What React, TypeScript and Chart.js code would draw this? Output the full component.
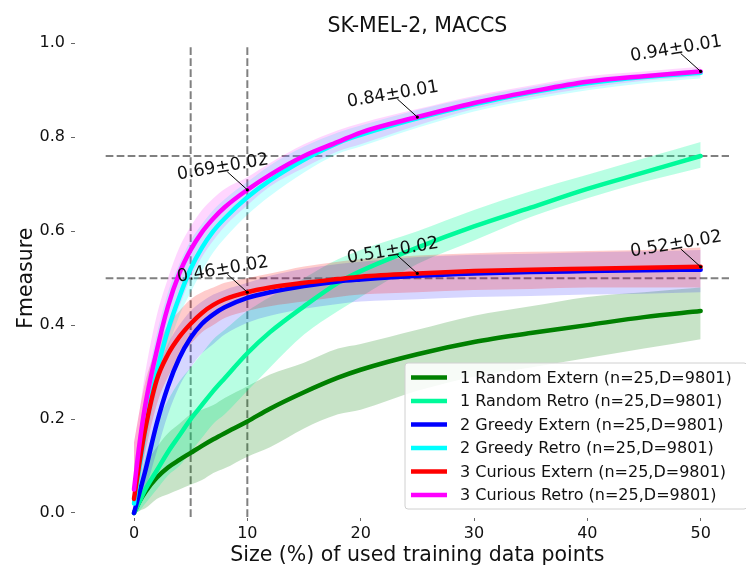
import React, { useEffect, useRef } from "react";
import { Chart, registerables } from "chart.js";

Chart.register(...registerables);

// ---------- data ----------
const X = [0, 0.5, 1, 2, 3, 4, 5, 6, 7, 8, 10, 12, 15, 18, 20, 25, 30, 35, 40, 45, 50];

const randomExtern = [0, 0.025, 0.045, 0.075, 0.097, 0.113, 0.128, 0.143, 0.157, 0.17, 0.195, 0.222, 0.257, 0.288, 0.305, 0.338, 0.364, 0.383, 0.4, 0.417, 0.43];
const randomRetro = [0, 0.025, 0.05, 0.09, 0.13, 0.165, 0.2, 0.23, 0.26, 0.287, 0.34, 0.385, 0.44, 0.49, 0.515, 0.565, 0.61, 0.65, 0.69, 0.725, 0.76];
const greedyExtern = [0, 0.045, 0.09, 0.19, 0.27, 0.33, 0.373, 0.403, 0.423, 0.438, 0.458, 0.47, 0.483, 0.493, 0.497, 0.505, 0.51, 0.513, 0.515, 0.517, 0.518];
const greedyRetro = [0.02, 0.1, 0.18, 0.3, 0.39, 0.46, 0.52, 0.565, 0.6, 0.627, 0.672, 0.708, 0.752, 0.788, 0.805, 0.84, 0.87, 0.895, 0.915, 0.928, 0.937];
const curiousExtern = [0.03, 0.11, 0.18, 0.283, 0.338, 0.375, 0.403, 0.426, 0.443, 0.455, 0.47, 0.48, 0.49, 0.498, 0.503, 0.51, 0.515, 0.518, 0.52, 0.522, 0.524];
const curiousRetro = [0.05, 0.15, 0.23, 0.345, 0.44, 0.51, 0.56, 0.598, 0.627, 0.651, 0.688, 0.72, 0.76, 0.79, 0.81, 0.843, 0.873, 0.897, 0.918, 0.93, 0.94];

// spread of the 25 individual runs (lower / upper envelope)
const randomExternLo = [0, 0.005, 0.01, 0.03, 0.04, 0.05, 0.06, 0.07, 0.085, 0.095, 0.12, 0.14, 0.18, 0.21, 0.22, 0.26, 0.29, 0.31, 0.33, 0.35, 0.37];
const randomExternHi = [0.02, 0.06, 0.1, 0.14, 0.17, 0.19, 0.21, 0.22, 0.23, 0.245, 0.27, 0.295, 0.32, 0.35, 0.36, 0.39, 0.42, 0.44, 0.46, 0.47, 0.48];
const randomRetroLo = [0, 0.005, 0.02, 0.05, 0.08, 0.1, 0.13, 0.16, 0.19, 0.21, 0.26, 0.31, 0.38, 0.43, 0.46, 0.53, 0.58, 0.63, 0.67, 0.705, 0.735];
const randomRetroHi = [0.02, 0.07, 0.12, 0.19, 0.24, 0.28, 0.31, 0.34, 0.37, 0.39, 0.43, 0.46, 0.5, 0.54, 0.56, 0.6, 0.645, 0.685, 0.72, 0.755, 0.79];
const greedyExternLo = [0, 0.02, 0.05, 0.13, 0.21, 0.27, 0.31, 0.34, 0.36, 0.38, 0.405, 0.42, 0.435, 0.445, 0.45, 0.455, 0.46, 0.462, 0.465, 0.467, 0.47];
const greedyExternHi = [0.06, 0.15, 0.22, 0.3, 0.36, 0.4, 0.43, 0.45, 0.465, 0.475, 0.49, 0.505, 0.52, 0.53, 0.535, 0.545, 0.55, 0.552, 0.555, 0.557, 0.56];
const greedyRetroLo = [0, 0.07, 0.14, 0.26, 0.35, 0.42, 0.47, 0.515, 0.555, 0.585, 0.635, 0.675, 0.725, 0.765, 0.78, 0.82, 0.855, 0.88, 0.9, 0.915, 0.925];
const greedyRetroHi = [0.1, 0.18, 0.26, 0.38, 0.47, 0.53, 0.58, 0.615, 0.645, 0.668, 0.705, 0.74, 0.78, 0.81, 0.825, 0.858, 0.885, 0.907, 0.925, 0.935, 0.945];
const curiousExternLo = [0.01, 0.07, 0.13, 0.23, 0.29, 0.33, 0.36, 0.385, 0.4, 0.415, 0.43, 0.44, 0.45, 0.46, 0.465, 0.47, 0.475, 0.477, 0.48, 0.48, 0.48];
const curiousExternHi = [0.15, 0.22, 0.28, 0.35, 0.4, 0.43, 0.455, 0.47, 0.48, 0.49, 0.5, 0.51, 0.525, 0.535, 0.54, 0.548, 0.553, 0.556, 0.558, 0.56, 0.565];
const curiousRetroLo = [0.01, 0.1, 0.17, 0.28, 0.37, 0.44, 0.5, 0.545, 0.58, 0.61, 0.655, 0.695, 0.735, 0.77, 0.785, 0.825, 0.86, 0.885, 0.905, 0.92, 0.93];
const curiousRetroHi = [0.15, 0.22, 0.3, 0.42, 0.5, 0.565, 0.61, 0.645, 0.67, 0.69, 0.715, 0.745, 0.785, 0.815, 0.83, 0.86, 0.888, 0.91, 0.93, 0.94, 0.95];

const SERIES_NAMES = [
  "1 Random Extern (n=25,D=9801)",
  "1 Random Retro (n=25,D=9801)",
  "2 Greedy Extern (n=25,D=9801)",
  "2 Greedy Retro (n=25,D=9801)",
  "3 Curious Extern (n=25,D=9801)",
  "3 Curious Retro (n=25,D=9801)",
];
const SERIES_COLORS = ["#008000", "#00FA9A", "#0000FF", "#00FFFF", "#FF0000", "#FF00FF"];
const BAND_COLORS = [
  "rgba(0,128,0,0.22)",
  "rgba(0,250,154,0.28)",
  "rgba(0,0,255,0.16)",
  "rgba(0,255,255,0.2)",
  "rgba(255,0,0,0.2)",
  "rgba(255,0,255,0.16)",
];
const MEANS = [randomExtern, randomRetro, greedyExtern, greedyRetro, curiousExtern, curiousRetro];
const LOWS = [randomExternLo, randomRetroLo, greedyExternLo, greedyRetroLo, curiousExternLo, curiousRetroLo];
const HIGHS = [randomExternHi, randomRetroHi, greedyExternHi, greedyRetroHi, curiousExternHi, curiousRetroHi];
const MEAN_ORDER = [6, 5, 4, 3, 2, 1]; // lower drawn on top

const X_TICKS = [0, 10, 20, 30, 40, 50];
const Y_TICKS = [0, 0.2, 0.4, 0.6, 0.8, 1.0];
const V_LINES = [5, 10];
const V_LINE_SPAN = [-0.0085, 0.9964];
const H_LINES = [0.76, 0.5];
const H_LINE_SPAN = [-2.5, 52.5];

const ANN_X = [10, 25, 50, 10, 25, 50];
const ANN_Y = [0.688, 0.843, 0.94, 0.47, 0.51, 0.524];
const ANN_LABELS = ["0.69±0.02", "0.84±0.01", "0.94±0.01", "0.46±0.02", "0.51±0.02", "0.52±0.02"];

const TITLE = "SK-MEL-2, MACCS";
const X_TITLE = "Size (%) of used training data points";
const Y_TITLE = "Fmeasure";

const FONT = "'DejaVu Sans', sans-serif";

const pts = (ys: number[]) => X.map((x, i) => ({ x, y: ys[i] }));

const overlayPlugin = {
  id: "overlay",
  afterDatasetsDraw(chart: any) {
    const ctx = chart.ctx;
    const xs = chart.scales.x;
    const ys = chart.scales.y;
    ctx.save();
    for (let i = 0; i < ANN_LABELS.length; i++) {
      const px = xs.getPixelForValue(ANN_X[i]);
      const py = ys.getPixelForValue(ANN_Y[i]);
      ctx.strokeStyle = "#000";
      ctx.lineWidth = 1;
      ctx.beginPath();
      ctx.moveTo(px - 20, py - 18);
      ctx.lineTo(px, py);
      ctx.stroke();
      ctx.fillStyle = "#000";
      ctx.beginPath();
      ctx.arc(px, py, 1.6, 0, Math.PI * 2);
      ctx.fill();
      ctx.save();
      ctx.translate(px - 24.5, py - 22.5);
      ctx.rotate((-9.5 * Math.PI) / 180);
      ctx.font = `17.5px ${FONT}`;
      ctx.textAlign = "center";
      ctx.textBaseline = "middle";
      ctx.fillStyle = "#111";
      ctx.fillText(ANN_LABELS[i], 0, 0);
      ctx.restore();
    }
    ctx.restore();
  },
  afterDraw(chart: any) {
    const ctx = chart.ctx;
    const area = chart.chartArea;
    ctx.save();
    // titles
    ctx.fillStyle = "#111";
    ctx.font = `20.5px ${FONT}`;
    ctx.textAlign = "center";
    ctx.textBaseline = "alphabetic";
    const cx = (chart.scales.x.getPixelForValue(H_LINE_SPAN[0]) + chart.scales.x.getPixelForValue(H_LINE_SPAN[1])) / 2;
    ctx.fillText(TITLE, cx, 31.5);
    ctx.fillText(X_TITLE, cx, 561);
    ctx.save();
    ctx.translate(31.5, (area.top + area.bottom) / 2 - 2);
    ctx.rotate(-Math.PI / 2);
    ctx.fillText(Y_TITLE, 0, 0);
    ctx.restore();

    // legend
    const lx = 405, ly = 363, lw = 342, lh = 146;
    ctx.beginPath();
    const r = 3;
    ctx.moveTo(lx + r, ly);
    ctx.lineTo(lx + lw - r, ly);
    ctx.arcTo(lx + lw, ly, lx + lw, ly + r, r);
    ctx.lineTo(lx + lw, ly + lh - r);
    ctx.arcTo(lx + lw, ly + lh, lx + lw - r, ly + lh, r);
    ctx.lineTo(lx + r, ly + lh);
    ctx.arcTo(lx, ly + lh, lx, ly + lh - r, r);
    ctx.lineTo(lx, ly + r);
    ctx.arcTo(lx, ly, lx + r, ly, r);
    ctx.closePath();
    ctx.fillStyle = "rgba(255,255,255,0.85)";
    ctx.fill();
    ctx.strokeStyle = "#d0d0d0";
    ctx.lineWidth = 1;
    ctx.stroke();
    ctx.font = `16px ${FONT}`;
    ctx.textAlign = "left";
    ctx.textBaseline = "middle";
    for (let i = 0; i < SERIES_NAMES.length; i++) {
      const y = 377.5 + i * 23.5;
      ctx.strokeStyle = SERIES_COLORS[i];
      ctx.lineWidth = 4.5;
      ctx.beginPath();
      ctx.moveTo(411, y);
      ctx.lineTo(447, y);
      ctx.stroke();
      ctx.fillStyle = "#111";
      ctx.fillText(SERIES_NAMES[i], 460, y + 1);
    }
    ctx.restore();
  },
};

export default function App() {
  const ref = useRef<HTMLCanvasElement | null>(null);
  useEffect(() => {
    if (!ref.current) return;
    const datasets: any[] = [];
    V_LINES.forEach((v) => {
      datasets.push({
        data: [{ x: v, y: V_LINE_SPAN[0] }, { x: v, y: V_LINE_SPAN[1] }],
        borderColor: "#808080",
        borderWidth: 2,
        borderDash: [7.7, 3.3],
        pointRadius: 0,
        fill: false,
        order: 100,
      });
    });
    H_LINES.forEach((h) => {
      datasets.push({
        data: [{ x: H_LINE_SPAN[0], y: h }, { x: H_LINE_SPAN[1], y: h }],
        borderColor: "#808080",
        borderWidth: 2,
        borderDash: [7.7, 3.3],
        pointRadius: 0,
        fill: false,
        order: 100,
      });
    });
    for (let i = 0; i < MEANS.length; i++) {
      datasets.push({
        data: pts(LOWS[i]),
        borderWidth: 0,
        borderColor: "rgba(0,0,0,0)",
        pointRadius: 0,
        fill: false,
        cubicInterpolationMode: "monotone",
        order: 60 - i * 2,
      });
      datasets.push({
        data: pts(HIGHS[i]),
        borderWidth: 0,
        borderColor: "rgba(0,0,0,0)",
        backgroundColor: BAND_COLORS[i],
        pointRadius: 0,
        fill: "-1",
        cubicInterpolationMode: "monotone",
        order: 59 - i * 2,
      });
    }
    for (let i = 0; i < MEANS.length; i++) {
      datasets.push({
        label: SERIES_NAMES[i],
        data: pts(MEANS[i]),
        borderColor: SERIES_COLORS[i],
        borderWidth: 4.5,
        pointRadius: 0,
        fill: false,
        cubicInterpolationMode: "monotone",
        borderCapStyle: "round",
        borderJoinStyle: "round",
        order: MEAN_ORDER[i],
      });
    }
    const tickFont = { family: FONT, size: 16 };
    const chart = new Chart(ref.current, {
      type: "line",
      data: { datasets },
      plugins: [overlayPlugin],
      options: {
        animation: false,
        responsive: false,
        devicePixelRatio: 1,
        events: [],
        layout: { padding: { top: 43, right: 17, left: 0, bottom: 0 } },
        plugins: {
          legend: { display: false },
          title: { display: false },
          tooltip: { enabled: false },
        },
        scales: {
          x: {
            type: "linear",
            min: -5.25,
            max: 52.5,
            afterFit: (s: any) => {
              s.height = 49.5;
            },
            afterBuildTicks: (s: any) => {
              s.ticks = X_TICKS.map((v) => ({ value: v }));
            },
            grid: { drawOnChartArea: false, color: "#666", tickLength: 3.5, lineWidth: 1 },
            border: { display: false },
            ticks: {
              font: tickFont,
              color: "#111",
              padding: 3,
              maxRotation: 0,
              autoSkip: false,
              callback: (v: any) => String(v),
            },
          },
          y: {
            type: "linear",
            min: -0.0096,
            max: 1.0006,
            afterFit: (s: any) => {
              s.width = 74.5;
            },
            afterBuildTicks: (s: any) => {
              s.ticks = Y_TICKS.map((v) => ({ value: v }));
            },
            grid: { drawOnChartArea: false, color: "#666", tickLength: 3.5, lineWidth: 1 },
            border: { display: false },
            ticks: {
              font: tickFont,
              color: "#111",
              padding: 6,
              autoSkip: false,
              callback: (v: any) => Number(v).toFixed(1),
            },
          },
        },
      } as any,
    });
    return () => chart.destroy();
  }, []);
  return (
    <div style={{ position: "absolute", left: 0, top: 0, width: 746, height: 567, background: "#fff" }}>
      <canvas ref={ref} width={746} height={567} style={{ display: "block", width: 746, height: 567 }} />
    </div>
  );
}
